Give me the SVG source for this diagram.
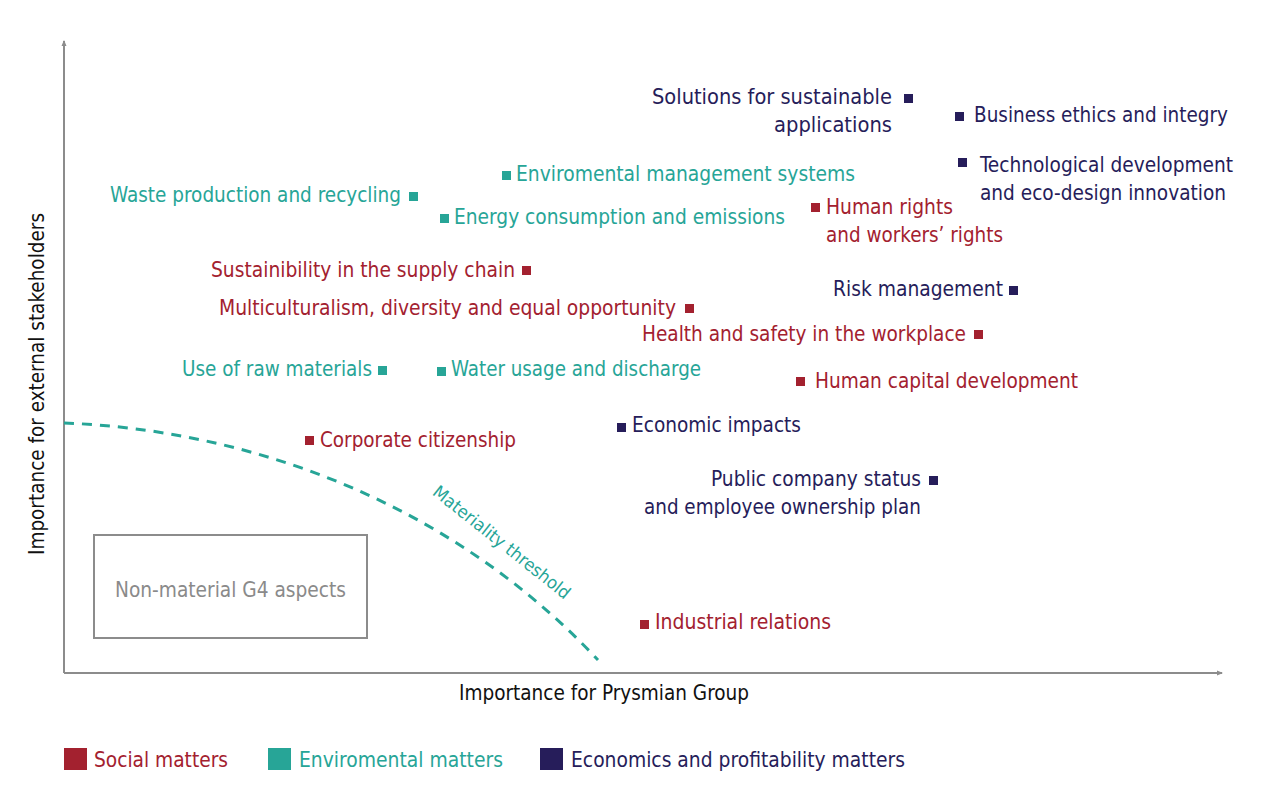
<svg xmlns="http://www.w3.org/2000/svg" width="1280" height="799" viewBox="0 0 1280 799">
<defs>
<style>
text{font-family:"DejaVu Sans Condensed","Liberation Sans Narrow","Liberation Sans",sans-serif;font-size:21px}
.s{fill:#a3212f}.e{fill:#27a597}.c{fill:#261d5a}
.k{fill:#111}.g{fill:#8a8a8a}
.ax{stroke:#8c8c8c;stroke-width:2;fill:none}
</style>
<marker id="arr" viewBox="0 0 6 6" refX="5" refY="3" markerWidth="6" markerHeight="6" orient="auto" markerUnits="userSpaceOnUse">
<path d="M0,0.5 L6,3 L0,5.5 Z" fill="#8c8c8c"/>
</marker>
</defs>
<rect width="1280" height="799" fill="#fff"/>

<g id="connectors">
<path class="ax" d="M64,673 L64,41" marker-end="url(#arr)"/>
<path class="ax" d="M64,673 L1222,673" marker-end="url(#arr)"/>
<path id="threshold" d="M64,423 C250,430 450,502 598,660" fill="none" stroke="#27a597" stroke-width="3" stroke-dasharray="10 8"/>
<text class="e" style="font-size:17.5px" text-anchor="middle" textLength="170" lengthAdjust="spacingAndGlyphs" transform="translate(498,547) rotate(38.5)">Materiality threshold</text>
</g>

<g id="axis-labels">
<text class="k" x="459" y="700" textLength="290" lengthAdjust="spacingAndGlyphs">Importance for Prysmian Group</text>
<text class="k" text-anchor="middle" textLength="342" lengthAdjust="spacingAndGlyphs" transform="translate(44,384) rotate(-90)">Importance for external stakeholders</text>
</g>

<g id="non-material">
<rect x="94" y="535" width="273" height="103" fill="none" stroke="#8c8c8c" stroke-width="2"/>
<text class="g" x="115" y="597" textLength="231" lengthAdjust="spacingAndGlyphs">Non-material G4 aspects</text>
</g>

<g id="solutions">
<rect class="c" x="904" y="94" width="9" height="9"/>
<text class="c" x="892" y="104" text-anchor="end" textLength="240" lengthAdjust="spacingAndGlyphs">Solutions for sustainable</text>
<text class="c" x="892" y="132" text-anchor="end" textLength="118" lengthAdjust="spacingAndGlyphs">applications</text>
</g>
<g id="business-ethics">
<rect class="c" x="955" y="112" width="9" height="9"/>
<text class="c" x="974" y="122" textLength="254" lengthAdjust="spacingAndGlyphs">Business ethics and integry</text>
</g>
<g id="technological">
<rect class="c" x="958" y="158" width="9" height="9"/>
<text class="c" x="980" y="172" textLength="253" lengthAdjust="spacingAndGlyphs">Technological development</text>
<text class="c" x="980" y="200" textLength="246" lengthAdjust="spacingAndGlyphs">and eco-design innovation</text>
</g>
<g id="env-management">
<rect class="e" x="502" y="171" width="9" height="9"/>
<text class="e" x="516" y="181" textLength="339" lengthAdjust="spacingAndGlyphs">Enviromental management systems</text>
</g>
<g id="waste">
<text class="e" x="110" y="202" textLength="291" lengthAdjust="spacingAndGlyphs">Waste production and recycling</text>
<rect class="e" x="409" y="192" width="9" height="9"/>
</g>
<g id="energy">
<rect class="e" x="440" y="214" width="9" height="9"/>
<text class="e" x="454" y="224" textLength="331" lengthAdjust="spacingAndGlyphs">Energy consumption and emissions</text>
</g>
<g id="human-rights">
<rect class="s" x="811" y="203" width="9" height="9"/>
<text class="s" x="826" y="214" textLength="127" lengthAdjust="spacingAndGlyphs">Human rights</text>
<text class="s" x="826" y="242" textLength="177" lengthAdjust="spacingAndGlyphs">and workers’ rights</text>
</g>
<g id="supply-chain">
<text class="s" x="211" y="277" textLength="304" lengthAdjust="spacingAndGlyphs">Sustainibility in the supply chain</text>
<rect class="s" x="522" y="266" width="9" height="9"/>
</g>
<g id="risk">
<text class="c" x="833" y="296" textLength="170" lengthAdjust="spacingAndGlyphs">Risk management</text>
<rect class="c" x="1009" y="286" width="9" height="9"/>
</g>
<g id="multiculturalism">
<text class="s" x="219" y="315" textLength="457" lengthAdjust="spacingAndGlyphs">Multiculturalism, diversity and equal opportunity</text>
<rect class="s" x="685" y="304" width="9" height="9"/>
</g>
<g id="health-safety">
<text class="s" x="642" y="341" textLength="324" lengthAdjust="spacingAndGlyphs">Health and safety in the workplace</text>
<rect class="s" x="974" y="330" width="9" height="9"/>
</g>
<g id="raw-materials">
<text class="e" x="182" y="376" textLength="190" lengthAdjust="spacingAndGlyphs">Use of raw materials</text>
<rect class="e" x="378" y="366" width="9" height="9"/>
</g>
<g id="water">
<rect class="e" x="437" y="367" width="9" height="9"/>
<text class="e" x="451" y="376" textLength="250" lengthAdjust="spacingAndGlyphs">Water usage and discharge</text>
</g>
<g id="human-capital">
<rect class="s" x="796" y="377" width="9" height="9"/>
<text class="s" x="815" y="388" textLength="263" lengthAdjust="spacingAndGlyphs">Human capital development</text>
</g>
<g id="economic-impacts">
<rect class="c" x="617" y="423" width="9" height="9"/>
<text class="c" x="632" y="432" textLength="169" lengthAdjust="spacingAndGlyphs">Economic impacts</text>
</g>
<g id="corporate-citizenship">
<rect class="s" x="305" y="436" width="9" height="9"/>
<text class="s" x="320" y="447" textLength="196" lengthAdjust="spacingAndGlyphs">Corporate citizenship</text>
</g>
<g id="public-company">
<text class="c" x="921" y="486" text-anchor="end" textLength="210" lengthAdjust="spacingAndGlyphs">Public company status</text>
<rect class="c" x="929" y="476" width="9" height="9"/>
<text class="c" x="921" y="514" text-anchor="end" textLength="277" lengthAdjust="spacingAndGlyphs">and employee ownership plan</text>
</g>
<g id="industrial-relations">
<rect class="s" x="640" y="620" width="9" height="9"/>
<text class="s" x="655" y="629" textLength="176" lengthAdjust="spacingAndGlyphs">Industrial relations</text>
</g>

<g id="legend">
<rect class="s" x="64" y="748" width="23" height="22"/>
<text class="s" x="94" y="767" textLength="134" lengthAdjust="spacingAndGlyphs">Social matters</text>
<rect class="e" x="268" y="748" width="23" height="22"/>
<text class="e" x="299" y="767" textLength="204" lengthAdjust="spacingAndGlyphs">Enviromental matters</text>
<rect class="c" x="540" y="748" width="23" height="22"/>
<text class="c" x="571" y="767" textLength="334" lengthAdjust="spacingAndGlyphs">Economics and profitability matters</text>
</g>
</svg>
